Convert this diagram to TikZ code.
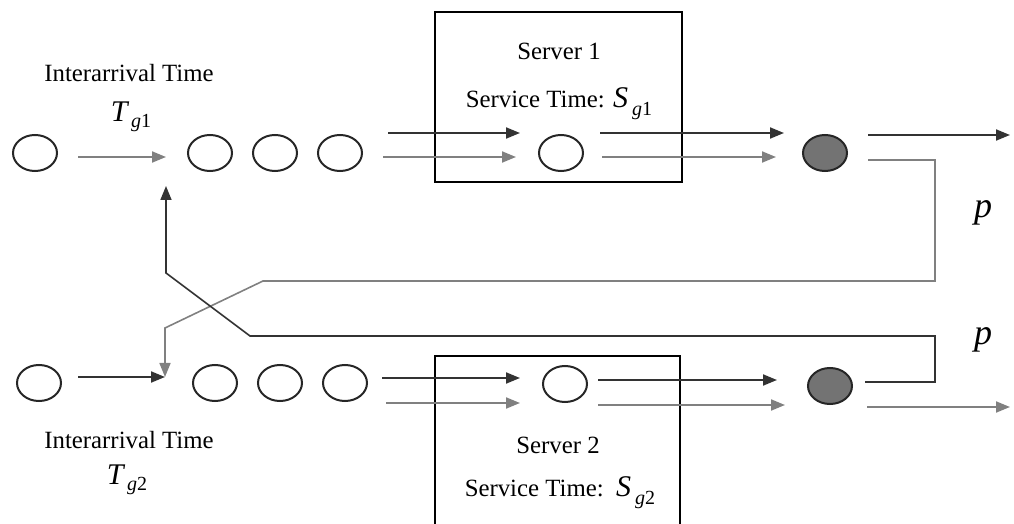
\documentclass[tikz,border=0pt]{standalone}
\usepackage{fontspec}
\setmainfont{Liberation Serif}
\usetikzlibrary{shapes.geometric,arrows.meta,positioning}

\newcommand{\qsym}[3]{{\fontsize{15}{15}\selectfont\itshape #1}\,\raisebox{-0.7ex}{\fontsize{10}{10}\selectfont\itshape #2\upshape #3}}

\begin{document}
\begin{tikzpicture}[x=0.5pt,y=-0.5pt,-,auto,node distance=32.5pt,
  queue node/.style={ellipse,draw=black!85,line width=1pt,minimum width=22pt,minimum height=18pt,inner sep=0pt},
  done node/.style={queue node,fill=black!55},
  dark arrow/.style={-{Triangle[length=7pt,width=5.5pt]},draw=black!80,line width=1pt},
  gray arrow/.style={dark arrow,draw=black!50},
  feed line/.style={line width=0.8pt},
  caption text/.style={font=\fontsize{12.4}{14}\selectfont}]

  \useasboundingbox (0,0) rectangle (1014,524);
  \clip (0,0) rectangle (1014,524);

  % upper line
  \node[queue node] (a1) at (35,153) {};
  \node[queue node] (q11) at (210,153) {};
  \node[queue node] (q12) [right of=q11] {};
  \node[queue node] (q13) [right of=q12] {};
  \node[draw,line width=1pt,minimum width=123.5pt,minimum height=85pt] (server1) at (558.5,97) {};
  \node[queue node] (s1) at (561,153) {};
  \node[done node] (d1) at (825,153) {};

  \node[caption text] (ia1) at (129,73) {Interarrival Time};
  \node[] (tg1) at (131,117) {\qsym{T}{g}{1}};
  \node[caption text] (sv1) at (559,51) {Server 1};
  \node[caption text] (st1) at (559,104) {Service Time: \qsym{S}{g}{1}};

  % lower line
  \node[queue node] (b1) at (39,383) {};
  \node[queue node] (q21) at (215,383) {};
  \node[queue node] (q22) [right of=q21] {};
  \node[queue node] (q23) [right of=q22] {};
  \node[queue node] (s2) at (565,384) {};
  \node[done node] (d2) at (830,386) {};

  \node[caption text] (ia2) at (129,440) {Interarrival Time};
  \node[] (tg2) at (127,480) {\qsym{T}{g}{2}};
  \node[caption text] (sv2) at (558,445) {Server 2};
  \node[caption text] (st2) at (560,493) {Service Time:\ \ \qsym{S}{g}{2}};

  \node[font=\fontsize{18}{18}\selectfont\itshape] (p1) at (983,213) {p};
  \node[font=\fontsize{18}{18}\selectfont\itshape] (p2) at (983,340) {p};

  \coordinate (j1) at (166,157);
  \coordinate (j2) at (165,377);
  \coordinate (fb1) at (166,186);
  \coordinate (out1) at (1010,135);
  \coordinate (out2) at (1010,407);

  \draw[line width=1pt] (435,540) |- (680,356) -- (680,540);

  % arrows, upper line
  \draw[gray arrow] ([xshift=10pt,yshift=-2pt]a1.east) -- (j1);
  \draw[dark arrow] ([xshift=12.5pt,yshift=10pt]q13.east) -- ([xshift=-9pt,yshift=10pt]s1.west);
  \draw[gray arrow] ([xshift=10pt,yshift=-2pt]q13.east) -- ([xshift=-11pt,yshift=-2pt]s1.west);
  \draw[dark arrow] ([xshift=8pt,yshift=10pt]s1.east) -- ([xshift=-9pt,yshift=10pt]d1.west);
  \draw[gray arrow] ([xshift=9pt,yshift=-2pt]s1.east) -- ([xshift=-13pt,yshift=-2pt]d1.west);
  \draw[dark arrow] ([xshift=10pt,yshift=9pt]d1.east) -- (out1);

  % arrows, lower line
  \draw[dark arrow] ([xshift=8pt,yshift=3pt]b1.east) -- (j2);
  \draw[dark arrow] ([xshift=7pt,yshift=2.5pt]q23.east) -- ([xshift=-11pt,yshift=3pt]s2.west);
  \draw[gray arrow] ([xshift=9pt,yshift=-10pt]q23.east) -- ([xshift=-11pt,yshift=-9.5pt]s2.west);
  \draw[dark arrow] ([xshift=5pt,yshift=2pt]s2.east) -- ([xshift=-15pt,yshift=3pt]d2.west);
  \draw[gray arrow] ([xshift=5pt,yshift=-10.5pt]s2.east) -- ([xshift=-11pt,yshift=-9.5pt]d2.west);
  \draw[gray arrow] ([xshift=7pt,yshift=-10.5pt]d2.east) -- (out2);

  % feedback with probability p
  \draw[gray arrow,feed line] ([xshift=10pt,yshift=-3.5pt]d1.east) -- (935,160) -- (935,281)
    -- (263,281) -- (165,328) -- (j2);
  \draw[dark arrow,feed line] ([xshift=6pt,yshift=2pt]d2.east) -- (935,382) -- (935,336)
    -- (250,336) -- (166,273) -- (fb1);

\end{tikzpicture}
\end{document}
